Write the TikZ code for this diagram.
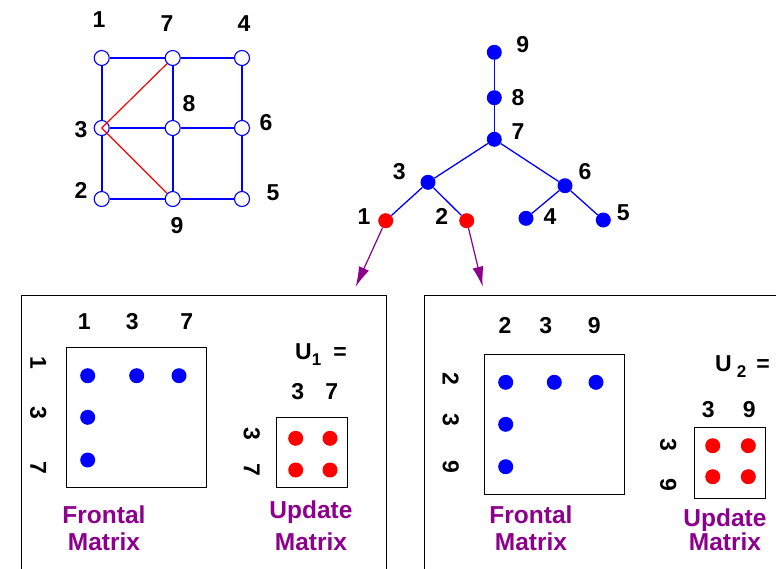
\documentclass[tikz,border=0pt]{standalone}
\usepackage{fontspec}
\setmainfont{Liberation Sans}
\usetikzlibrary{arrows.meta}
\definecolor{fpurple}{RGB}{140,0,140}
\tikzset{
  lbl/.style={font=\fontsize{23}{25}\selectfont\bfseries, inner sep=0pt},
  ttl/.style={text=fpurple, align=center, inner sep=0pt},
  gnode/.style={circle, draw=blue, fill=white, line width=1.1pt, minimum size=15pt, inner sep=0pt},
  tnode/.style={circle, fill=blue, minimum size=15pt, inner sep=0pt},
  rnode/.style={circle, fill=red, minimum size=15pt, inner sep=0pt},
  bdot/.style={circle, fill=blue, minimum size=15pt, inner sep=0pt},
  rdot/.style={circle, fill=red, minimum size=15pt, inner sep=0pt},
  mbox/.style={draw, line width=1pt, inner sep=0pt},
  gedge/.style={blue, line width=1.6pt},
  fedge/.style={red, line width=1.2pt},
  tedge/.style={blue, line width=1.3pt},
  farrow/.style={fpurple, line width=1.2pt, -{Latex[length=20pt,width=11pt]}},
}
\newcommand{\usub}[1]{\raisebox{-6pt}{\fontsize{17}{18}\selectfont #1}}
\begin{document}
\begin{tikzpicture}[x=1pt,y=-1pt]
  \useasboundingbox (0,0) rectangle (776,568);
  % graph
  \foreach \n/\x/\y in {1/101.7/58,7/172.7/58,4/242/58,3/101.7/128,8/172.7/128,6/242/128,2/101.7/199,9/172.7/199,5/242/199}
    \node[gnode] (g\n) at (\x,\y) {};
  \foreach \a/\b in {1/7,7/4,1/3,7/8,4/6,3/8,8/6,3/2,8/9,6/5,2/9,9/5}
    \draw[gedge] (g\a) -- (g\b);
  \draw[fedge] (g3.center) -- (g7.south west);
  \draw[fedge] (g3.center) -- (g9.north west);
  \foreach \n/\x/\y in {1/99/20,7/167/24,4/244/24,8/189/104,3/81/130,6/266/123,2/81/190,5/273/193,9/177/226}
    \node[lbl] (gl\n) at (\x,\y) {\n};
  % elimination tree
  \foreach \n/\x/\y in {9/494.3/52.3,8/494.3/97.7,7/494.3/139.3,3/428/182.3,6/565/185.7,4/526/218.3,5/603.3/220}
    \node[tnode] (t\n) at (\x,\y) {};
  \foreach \n/\x/\y in {1/385.7/220.7,2/466.7/220.7}
    \node[rnode] (t\n) at (\x,\y) {};
  \foreach \a/\b in {9/8,8/7,7/3,7/6,3/1,3/2,6/4,6/5}
    \draw[tedge] (t\a) -- (t\b);
  \foreach \n/\x/\y in {9/522.7/45,8/518/97.3,7/518/131.7,3/399.3/171.7,6/585/171.7,1/364/216.7,2/441.7/216.7,4/550/216.7,5/623.3/212.3}
    \node[lbl] (tl\n) at (\x,\y) {\n};
  \coordinate (p1) at (355.7,286.7);
  \coordinate (p2) at (482.7,286.7);
  \draw[farrow] (t1) -- (p1);
  \draw[farrow] (t2) -- (p2);
  % left panel
  \draw[line width=1pt] (21.7,580) -- (21.7,295) -- (386,295) -- (386,580);
  \foreach \n/\x in {1/84.3,3/132.3,7/186.7}
    \node[lbl] (ac\n) at (\x,321.7) {\n};
  \foreach \n/\y in {1/363.3,3/413.3,7/468.3}
    \node[lbl, rotate=-90] (ar\n) at (38.3,\y) {\n};
  \node[mbox, minimum width=140pt, minimum height=139.6pt] (fa) at (136.7,417.5) {};
  \foreach \x/\y [count=\i] in {87.7/375.7,136.7/375.7,179/375.7,87.7/417.3,87.7/460}
    \node[bdot] (fa\i) at (\x,\y) {};
  \node[lbl, anchor=west] (ua) at (295,355) {U\usub{1}\hspace{12pt}=};
  \foreach \n/\x in {3/297.7,7/331.7}
    \node[lbl] (uc\n) at (\x,391.7) {\n};
  \foreach \n/\y in {3/434,7/470}
    \node[lbl, rotate=-90] (ur\n) at (251.7,\y) {\n};
  \node[mbox, minimum width=71pt, minimum height=70pt] (ma) at (312.2,452.3) {};
  \foreach \x/\y [count=\i] in {295.7/438.3,330/438.3,295.7/470,330/470}
    \node[rdot] (ma\i) at (\x,\y) {};
  \node[ttl, font=\fontsize{24.5}{27}\selectfont\bfseries] (fta) at (104,528.3) {Frontal\\Matrix};
  \node[ttl, font=\fontsize{24.5}{32}\selectfont\bfseries] (uta) at (311,526.2) {Update\\Matrix};
  % right panel
  \draw[line width=1pt] (424.3,580) -- (424.3,295) -- (790,295);
  \foreach \n/\x in {2/505,3/545.7,9/594.3}
    \node[lbl] (bc\n) at (\x,325.7) {\n};
  \foreach \n/\y in {2/379,3/420,9/466.7}
    \node[lbl, rotate=-90] (br\n) at (450.7,\y) {\n};
  \node[mbox, minimum width=140.3pt, minimum height=140.3pt] (fb) at (554.2,424.2) {};
  \foreach \x/\y [count=\i] in {505.7/382.3,554.3/382.3,596/382.3,505.7/424.3,505.7/466.7}
    \node[bdot] (fb\i) at (\x,\y) {};
  \node[lbl, anchor=west] (ub) at (715,367) {U\hspace{5pt}\usub{2}\hspace{10pt}=};
  \foreach \n/\x in {3/708.3,9/749.3}
    \node[lbl] (vc\n) at (\x,409.3) {\n};
  \foreach \n/\y in {3/445,9/485}
    \node[lbl, rotate=-90] (vr\n) at (668.3,\y) {\n};
  \node[mbox, minimum width=70.7pt, minimum height=70.6pt] (mb) at (729.7,463) {};
  \foreach \x/\y [count=\i] in {712.7/445.7,748.3/445.7,712.7/476.7,748.3/476.7}
    \node[rdot] (mb\i) at (\x,\y) {};
  \node[ttl, font=\fontsize{24.5}{27}\selectfont\bfseries] (ftb) at (531,528.3) {Frontal\\Matrix};
  \node[ttl, font=\fontsize{24.5}{24}\selectfont\bfseries] (utb) at (725,530) {Update\\Matrix};
\end{tikzpicture}
\end{document}
